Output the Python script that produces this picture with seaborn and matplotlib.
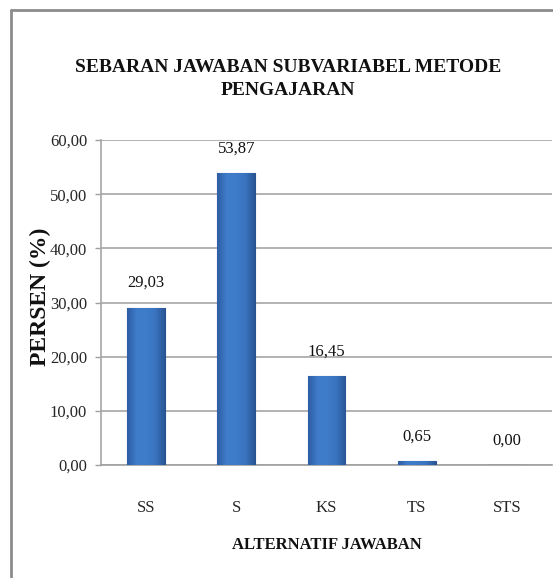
import matplotlib
matplotlib.use("Agg")
import matplotlib.pyplot as plt
import seaborn as sns
import numpy as np
import pandas as pd
from matplotlib.colors import LinearSegmentedColormap

categories = ["SS", "S", "KS", "TS", "STS"]
values = [29.03, 53.87, 16.45, 0.65, 0.00]
value_labels = ["29,03", "53,87", "16,45", "0,65", "0,00"]
yticks = [0, 10, 20, 30, 40, 50, 60]
ytick_labels = ["0,00", "10,00", "20,00", "30,00", "40,00", "50,00", "60,00"]
title = "SEBARAN JAWABAN SUBVARIABEL METODE\nPENGAJARAN"
ylabel = "PERSEN (%)"
xlabel = "ALTERNATIF JAWABAN"

sns.set_theme(style="white")
plt.rcParams["font.family"] = ["Liberation Serif", "DejaVu Serif"]

df = pd.DataFrame({"cat": categories, "val": values})

fig = plt.figure(figsize=(5.53, 5.78), dpi=100)
ax = fig.add_axes([101/553, 1-465/578, (552-101)/553, (465-140)/578])

sns.barplot(data=df, x="cat", y="val", color="#3A74C2", width=0.42,
            edgecolor="#27528E", linewidth=0.8, ax=ax, saturation=1, zorder=3)

ax.set_ylim(0, 60)
ax.set_xlim(-0.5, len(categories) - 0.5)

# gradient fill for bars
cmap = LinearSegmentedColormap.from_list(
    "bar", ["#2E5E A4".replace(" ", ""), "#3F7CCA", "#3E7BC9", "#3A74C0", "#2A5795"])
grad = np.linspace(0, 1, 64).reshape(1, -1)
for p in ax.patches:
    x0, y0 = p.get_x(), p.get_y()
    w, h = p.get_width(), p.get_height()
    if h <= 0:
        continue
    im = ax.imshow(grad, cmap=cmap, extent=[x0, x0 + w, y0, y0 + h],
                   aspect="auto", zorder=3.5, origin="lower")
    im.set_clip_path(p)
ax.set_ylim(0, 60)
ax.set_xlim(-0.5, len(categories) - 0.5)

# data labels
for i, (v, lab) in enumerate(zip(values, value_labels)):
    ax.annotate(lab, (i, v), xytext=(0, 12), textcoords="offset points",
                ha="center", va="bottom", fontsize=12, color="#111111")

ax.set_yticks(yticks)
ax.set_yticklabels(ytick_labels, fontsize=12)
ax.yaxis.grid(True, color="#A6A6A6", linewidth=1.2, zorder=0)
ax.set_axisbelow(True)

ax.set_xticks(range(len(categories)))
ax.set_xticklabels(categories, fontsize=12)
ax.set_xticks(np.arange(-0.5, len(categories), 1.0), minor=True)
ax.tick_params(axis="x", which="major", length=0, pad=25)
ax.tick_params(axis="x", which="minor", length=6, color="#A0A0A0", width=1)
ax.tick_params(axis="y", which="major", length=4, color="#A0A0A0", width=1, pad=6, left=True)

for s in ["top", "right"]:
    ax.spines[s].set_visible(False)
ax.spines["left"].set_color("#A6A6A6")
ax.spines["bottom"].set_color("#A0A0A0")
ax.spines["left"].set_linewidth(1.2)
ax.spines["bottom"].set_linewidth(1.2)

ax.set_xlabel(xlabel, fontsize=12, fontweight="bold", labelpad=15, color="#111111")
ax.set_ylabel("")
fig.text(40/553, 1-297/578, ylabel, rotation=90, ha="center", va="center",
         fontsize=17, fontweight="bold", color="#111111")

fig.text(288/553, 1-79/578, title, ha="center", va="center", fontsize=14,
         fontweight="bold", linespacing=1.45, color="#111111")

# outer chart border (top and left visible)
fig.add_artist(plt.Line2D([11/553, 11/553], [0, 1-10/578], transform=fig.transFigure,
                          color="#8C8C8C", linewidth=2))
fig.add_artist(plt.Line2D([11/553, 1], [1-10/578, 1-10/578], transform=fig.transFigure,
                          color="#8C8C8C", linewidth=2))

fig.savefig("out.png", dpi=100)
